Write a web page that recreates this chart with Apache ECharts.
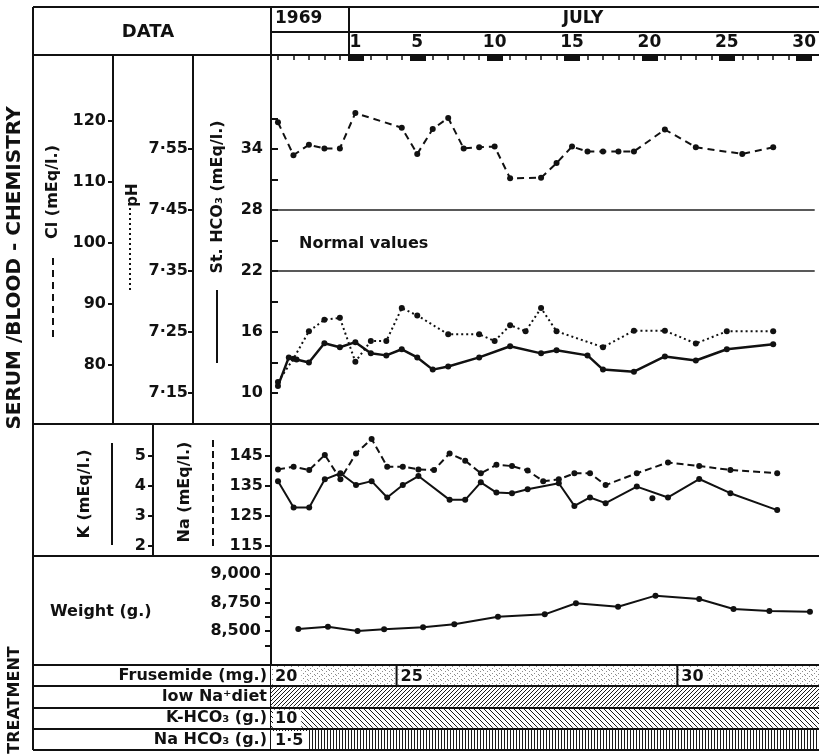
<!DOCTYPE html>
<html>
<head>
<meta charset="utf-8">
<script src="https://cdn.jsdelivr.net/npm/echarts@6.0.0/dist/echarts.min.js"></script>
<style>
  html, body { margin: 0; padding: 0; background: #fff; }
  #chart { width: 819px; height: 756px; }
</style>
</head>
<body>
<div id="chart"></div>
<script>
// ─── Data ────────────────────────────────────────
// days counted from 30 June (0) so July dates read directly; negatives are late June 1969
const dayMin = -4.45;
const dayMax = 30.68;
const dayLabels = [1, 5, 10, 15, 20, 25, 30];
const dayTicks = [];
for (let d = -4; d <= 30; d++) dayTicks.push(d);

// serum / blood chemistry
const clDays = [-4, -3, -2, -1, 0, 1, 4, 5, 6, 7, 8, 9, 10, 11, 13, 14, 15, 16, 17, 18, 19, 21, 23, 26, 28];
const clValues = [119.8, 114.4, 116.1, 115.5, 115.5, 121.3, 118.9, 114.6, 118.7, 120.5, 115.5, 115.7, 115.8,
  110.6, 110.7, 113.1, 115.8, 115.0, 115.0, 115.0, 115.0, 118.6, 115.7, 114.6, 115.7];

const phDays = [-4, -3, -2, -1, 0, 1, 2, 3, 4, 5, 7, 9, 10, 11, 12, 13, 14, 17, 19, 21, 23, 25, 28];
const phValues = [7.168, 7.206, 7.251, 7.270, 7.273, 7.201, 7.235, 7.235, 7.289, 7.277, 7.246, 7.246,
  7.235, 7.261, 7.251, 7.289, 7.251, 7.225, 7.252, 7.252, 7.231, 7.251, 7.251];

const hco3Days = [-4, -3.3, -2.8, -2, -1, 0, 1, 2, 3, 4, 5, 6, 7, 9, 11, 13, 14, 16, 17, 19, 21, 23, 25, 28];
const hco3Values = [10.7, 13.5, 13.3, 13.0, 14.9, 14.5, 15.0, 13.9, 13.7, 14.3, 13.5, 12.3, 12.6, 13.5,
  14.6, 13.9, 14.2, 13.7, 12.3, 12.1, 13.6, 13.2, 14.3, 14.8];
const normalHco3 = [22, 28];

const naDays = [-4, -3, -2, -1, 0, 1, 2, 3, 4, 5, 6, 7, 8, 9, 10, 11, 12, 13, 14, 15, 16, 17, 19, 21, 23, 25, 28];
const naValues = [140.4, 141.3, 140.2, 145.2, 137.1, 145.7, 150.5, 141.3, 141.3, 140.4, 140.2, 145.7, 143.3,
  139.1, 141.9, 141.5, 140.0, 136.5, 137.1, 139.1, 139.1, 135.2, 139.1, 142.7, 141.5, 140.2, 139.1];

const kDays = [-4, -3, -2, -1, 0, 1, 2, 3, 4, 5, 7, 8, 9, 10, 11, 12, 14, 15, 16, 17, 19, 21, 23, 25, 28];
const kValues = [4.15, 3.28, 3.28, 4.21, 4.41, 4.02, 4.15, 3.61, 4.02, 4.32, 3.53, 3.53, 4.11, 3.77, 3.75,
  3.88, 4.08, 3.33, 3.61, 3.42, 3.97, 3.61, 4.22, 3.75, 3.19];
const kExtraDays = [20];
const kExtraValues = [3.58];

const weightDays = [-2.7, -0.8, 1.1, 2.8, 5.3, 7.3, 10.1, 13.1, 15.1, 17.8, 20.2, 23, 25.2, 27.5, 30.1];
const weightValues = [8517, 8538, 8500, 8515, 8532, 8559, 8625, 8646, 8743, 8713, 8810, 8781, 8693, 8675, 8669];

// axis ticks / labels
const clLabels = [80, 90, 100, 110, 120];
const phLabels = [7.15, 7.25, 7.35, 7.45, 7.55];
const hco3Labels = [10, 16, 22, 28, 34];
const hco3Ticks = [10, 13, 16, 19, 22, 25, 28, 31, 34, 37];
const naLabels = [115, 125, 135, 145];
const kLabels = [2, 3, 4, 5];
const weightLabels = [8500, 8750, 9000];
const weightTicks = [8375, 8500, 8625, 8750, 8875, 9000];

// treatment
const treatRows = ['Frusemide (mg.)', 'low Na\u207Adiet', 'K-HCO\u2083 (g.)', 'Na HCO\u2083 (g.)'];
const frusemideStart = [dayMin, 3.6, 21.6];
const frusemideEnd = [3.6, 21.6, dayMax];
const frusemideDose = ['20', '25', '30'];
const khco3Dose = ['10'];
const nahco3Dose = ['1\u00B75'];

// ─── Styles ────────────────────────────────────────
const FONT = 'DejaVu Sans';
const INK = '#111';

function makePattern(w, h, draw) {
  const c = document.createElement('canvas');
  c.width = w; c.height = h;
  const g = c.getContext('2d');
  g.fillStyle = '#fff';
  g.fillRect(0, 0, w, h);
  g.fillStyle = '#1a1a1a';
  draw(g);
  return { image: c, repeat: 'repeat' };
}
const patterns = {
  stipple: makePattern(7, 5, g => {
    g.fillStyle = '#8c8c8c';
    g.fillRect(0, 0, 1, 1); g.fillRect(4, 1, 1, 1); g.fillRect(2, 3, 1, 1); g.fillRect(6, 4, 1, 1);
  }),
  slash: makePattern(4, 4, g => { for (let i = 0; i < 4; i++) g.fillRect(i, 3 - i, 1, 1); }),
  backslash: makePattern(5, 5, g => { for (let i = 0; i < 5; i++) g.fillRect(i, i, 1, 1); }),
  vertical: makePattern(3, 1, g => { g.fillRect(0, 0, 1, 1); })
};

// treatment bars: [start, end, row]
const treatData = [], treatText = [], treatFill = [];
frusemideStart.forEach((s, i) => {
  treatData.push([s, frusemideEnd[i], 0]); treatText.push(frusemideDose[i]); treatFill.push('stipple');
});
treatData.push([dayMin, dayMax, 1]); treatText.push(''); treatFill.push('slash');
treatData.push([dayMin, dayMax, 2]); treatText.push(khco3Dose[0]); treatFill.push('backslash');
treatData.push([dayMin, dayMax, 3]); treatText.push(nahco3Dose[0]); treatFill.push('vertical');

const pairs = (xs, ys) => xs.map((x, i) => [x, ys[i]]);

function lineSeries(name, days, values, xi, yi, type, width) {
  return {
    name, type: 'line', xAxisIndex: xi, yAxisIndex: yi,
    data: pairs(days, values),
    symbol: 'circle', symbolSize: 6,
    itemStyle: { color: INK },
    lineStyle: { color: INK, width: width, type: type },
    z: 3
  };
}

const lbl = (extra) => Object.assign({ color: INK, fontFamily: FONT, fontWeight: 'bold', fontSize: 16 }, extra || {});
const axisLine = { show: true, onZero: false, lineStyle: { color: INK, width: 2 } };

function valueY(grid, min, max, offset, labels, ticks, tickLen, inside, margin, formatter) {
  return {
    type: 'value', gridIndex: grid, position: 'left', offset: offset,
    min: min, max: max,
    axisLine: axisLine,
    axisTick: { show: true, customValues: ticks, length: tickLen, inside: inside, lineStyle: { color: INK, width: 2 } },
    axisLabel: lbl({ customValues: labels, margin: margin, formatter: formatter }),
    splitLine: { show: false }
  };
}

const hiddenX = (grid) => ({ type: 'value', gridIndex: grid, min: dayMin, max: dayMax, show: false });

// ─── Frame ────────────────────────────────────────
const frameLines = [
  [33, 7, 819, 7], [33, 7, 33, 750], [271, 7, 271, 55], [349, 7, 349, 55], [271, 32, 819, 32],
  [33, 55, 819, 55], [33, 424, 819, 424], [33, 556, 819, 556], [33, 665, 819, 665],
  [33, 686, 819, 686], [33, 708, 819, 708], [33, 729, 819, 729], [33, 750, 819, 750]
];
const graphics = frameLines.map(l => ({
  type: 'line', silent: true, z: 10,
  shape: { x1: l[0], y1: l[1], x2: l[2], y2: l[3] },
  style: { stroke: INK, lineWidth: 2 }
}));

function addText(text, x, y, size, rotate, align) {
  graphics.push({
    type: 'text', x: x, y: y, rotation: rotate ? Math.PI / 2 : 0, z: 10, silent: true,
    style: {
      text: text, x: 0, y: 0, fill: INK,
      font: 'bold ' + size + 'px "' + FONT + '"',
      textAlign: align || 'center', textVerticalAlign: 'middle'
    }
  });
}
function addKey(x, y1, y2, dash) {
  graphics.push({
    type: 'line', silent: true, z: 10,
    shape: { x1: x, y1: y1, x2: x, y2: y2 },
    style: { stroke: INK, lineWidth: 2, lineDash: dash }
  });
}

addText('DATA', 148, 32, 18);
addText('1969', 275, 19, 17, false, 'left');
addText('JULY', 583, 19, 17);
addText('SERUM /BLOOD - CHEMISTRY', 15, 268, 20, true);
addText('TREATMENT', 15, 700, 16, true);
addText('Cl (mEq/l.)', 53, 192, 16, true);
addKey(53, 258, 337, [7, 5]);
addText('pH', 133, 195, 15, true);
addKey(130, 208, 290, [2, 3]);
addText('St. HCO\u2083 (mEq/l.)', 218, 197, 16, true);
addKey(217, 290, 363, null);
addText('K (mEq/l.)', 85, 494, 16, true);
addKey(112, 443, 545, null);
addText('Na (mEq/l.)', 185, 492, 16, true);
addKey(213, 440, 547, [7, 4]);
addText('Weight (g.)', 50, 612, 16, false, 'left');

// ─── Chart ────────────────────────────────────────
const chart = echarts.init(document.getElementById('chart'));

chart.setOption({
  animation: false,
  backgroundColor: '#fff',
  textStyle: { fontFamily: FONT },
  grid: [
    { left: 271, right: 0, top: 55, height: 369 },
    { left: 271, right: 0, top: 424, height: 132 },
    { left: 271, right: 0, top: 556, height: 109 },
    { left: 271, right: 0, top: 665, height: 85 }
  ],
  xAxis: [
    {
      type: 'value', gridIndex: 0, position: 'top', min: dayMin, max: dayMax,
      axisLine: axisLine,
      axisTick: { show: true, inside: true, length: 5, customValues: dayTicks, lineStyle: { color: INK, width: 1.5 } },
      axisLabel: lbl({ customValues: dayLabels, margin: 4, fontSize: 17 }),
      splitLine: { show: false }
    },
    {
      type: 'value', gridIndex: 0, position: 'top', min: dayMin, max: dayMax,
      axisLine: { show: false, onZero: false },
      axisTick: { show: true, inside: true, length: 6, customValues: dayLabels, lineStyle: { color: INK, width: 16 } },
      axisLabel: { show: false },
      splitLine: { show: false }
    },
    hiddenX(1), hiddenX(2), hiddenX(3)
  ],
  yAxis: [
    valueY(0, 6.95, 43.25, 0, hco3Labels, hco3Ticks, 7, true, 8),
    valueY(0, 70.33, 130.82, 158, clLabels, clLabels, 5, false, 7),
    valueY(0, 7.099, 7.704, 78, phLabels, phLabels, 5, false, 5, v => v.toFixed(2).replace('.', '\u00B7')),
    valueY(1, 111.69, 155.44, 0, naLabels, naLabels, 6, false, 8),
    valueY(1, 1.669, 6.044, 118, kLabels, kLabels, 5, false, 7),
    valueY(2, 8201.8, 9157.9, 0, weightLabels, weightTicks, 6, false, 10, v => Math.floor(v / 1000) + ',' + String(v % 1000).padStart(3, '0')),
    {
      type: 'category', gridIndex: 3, data: treatRows, inverse: true,
      axisLine: axisLine, axisTick: { show: false },
      axisLabel: lbl({ margin: 4, fontSize: 16 }),
      splitLine: { show: false }
    }
  ],
  graphic: graphics,
  series: [
    lineSeries('Cl', clDays, clValues, 0, 1, [7, 5], 2),
    lineSeries('pH', phDays, phValues, 0, 2, [2, 3], 2),
    Object.assign(lineSeries('St. HCO3', hco3Days, hco3Values, 0, 0, 'solid', 2.5), {
      markLine: {
        silent: true, symbol: 'none', label: { show: false },
        lineStyle: { color: '#222', width: 1.5, type: 'solid' },
        data: normalHco3.map(v => ({ yAxis: v }))
      },
      markArea: {
        silent: true,
        itemStyle: { color: 'rgba(0,0,0,0)' },
        label: lbl({ show: true, position: 'insideLeft', offset: [23, 3] }),
        data: [[{ name: 'Normal values', yAxis: normalHco3[0] }, { yAxis: normalHco3[1] }]]
      }
    }),
    lineSeries('Na', naDays, naValues, 2, 3, [7, 4], 2),
    lineSeries('K', kDays, kValues, 2, 4, 'solid', 2),
    {
      name: 'K extra', type: 'scatter', xAxisIndex: 2, yAxisIndex: 4,
      data: pairs(kExtraDays, kExtraValues), symbolSize: 6,
      itemStyle: { color: INK, opacity: 1 }
    },
    lineSeries('Weight', weightDays, weightValues, 3, 5, 'solid', 2),
    {
      name: 'Treatment', type: 'custom', xAxisIndex: 4, yAxisIndex: 6,
      data: treatData,
      renderItem: function (params, api) {
        const row = api.value(2);
        const p0 = api.coord([api.value(0), row]);
        const p1 = api.coord([api.value(1), row]);
        const h = api.size([0, 1])[1];
        const top = p0[1] - h / 2;
        const children = [{
          type: 'rect',
          shape: { x: p0[0], y: top + 1, width: p1[0] - p0[0], height: h - 2 },
          style: { fill: patterns[treatFill[params.dataIndex]] }
        }];
        if (api.value(0) > dayMin) {
          children.push({
            type: 'line', shape: { x1: p0[0], y1: top, x2: p0[0], y2: top + h },
            style: { stroke: INK, lineWidth: 2 }
          });
        }
        const t = treatText[params.dataIndex];
        if (t) {
          children.push({
            type: 'text',
            style: {
              text: t, x: p0[0] + 2, y: p0[1] + 1, fill: INK,
              font: 'bold 16px "' + FONT + '"',
              textAlign: 'left', textVerticalAlign: 'middle',
              backgroundColor: '#fff', padding: [2, 4, 1, 2]
            }
          });
        }
        return { type: 'group', children: children };
      },
      z: 1
    }
  ]
});

window.addEventListener('resize', () => chart.resize());
</script>
</body>
</html>
